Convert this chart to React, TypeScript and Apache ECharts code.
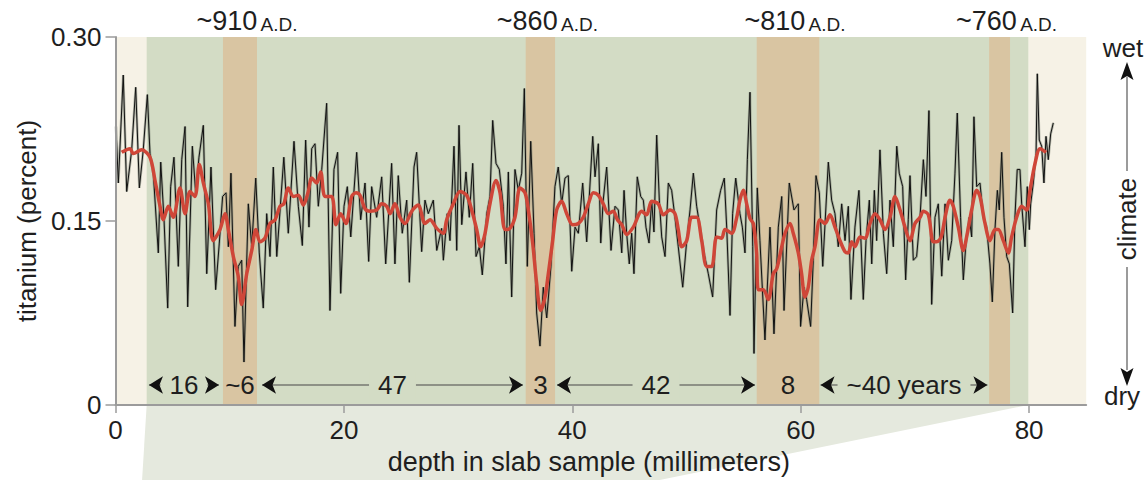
import React, { useEffect, useRef } from 'react';
import * as echarts from 'echarts';

// ---- data ----
const depthRaw = [
  0.04, 0.25, 0.68, 0.98, 1.42, 1.77, 2.09, 2.43, 2.79, 3.02, 3.31, 3.75, 3.96, 4.25, 4.57, 4.83, 5.12, 5.5, 5.8, 6.09,
  6.32, 6.73, 7.02, 7.31, 7.69, 7.99, 8.36, 8.77, 9.09, 9.38, 9.68, 9.88, 10.11, 10.46, 10.75, 11.05, 11.25, 11.63, 11.93, 12.28,
  12.59, 12.94, 13.24, 13.53, 13.82, 14.12, 14.74, 15.13, 15.63, 16.01, 16.36, 16.65, 16.94, 17.18, 17.47, 17.76, 18.06, 18.49, 18.78, 19.13,
  19.45, 19.72, 20.01, 20.3, 20.6, 21.12, 21.47, 21.85, 22.17, 22.43, 22.87, 23.31, 23.66, 24.18, 24.47, 24.76, 25.11, 25.5, 25.73, 26.14,
  26.37, 26.81, 27.1, 27.39, 27.83, 28.13, 28.56, 28.71, 29.05, 29.29, 29.64, 29.88, 30.08, 30.32, 30.69, 30.98, 31.28, 31.57, 31.86, 32.12,
  32.51, 32.79, 33.03, 33.32, 33.61, 33.96, 34.19, 34.4, 34.69, 34.98, 35.27, 35.57, 35.8, 36.06, 36.36, 36.65, 36.88, 37.17, 37.46, 37.76,
  38.13, 38.48, 38.77, 39.07, 39.36, 39.65, 39.95, 40.24, 40.53, 40.91, 41.26, 41.79, 41.99, 42.28, 42.49, 42.71, 43.01, 43.39, 43.74, 44.03,
  44.33, 44.53, 44.76, 44.99, 45.2, 45.4, 45.69, 45.99, 46.22, 46.45, 46.72, 46.95, 47.15, 47.39, 47.62, 47.83, 48.12, 48.41, 48.7, 48.99,
  49.28, 49.67, 50.02, 50.31, 50.6, 50.89, 51.18, 51.53, 51.91, 52.29, 52.64, 52.99, 53.31, 53.52, 53.81, 54.04, 54.31, 54.68, 54.89, 55.12,
  55.33, 55.56, 55.8, 55.91, 56.2, 56.43, 56.87, 57.31, 57.66, 58.04, 58.34, 58.54, 59.0, 59.41, 59.79, 59.99, 60.29, 60.52, 60.87, 61.1,
  61.34, 61.63, 61.93, 62.42, 62.71, 63.0, 63.29, 63.59, 63.88, 64.17, 64.4, 64.75, 65.1, 65.48, 65.72, 66.01, 66.22, 66.45, 66.65, 66.94,
  67.24, 67.53, 67.82, 68.11, 68.41, 68.63, 68.93, 69.19, 69.42, 69.57, 69.86, 70.15, 70.45, 70.74, 70.97, 71.23, 71.47, 71.76, 72.05, 72.35,
  72.64, 72.93, 73.22, 73.51, 73.71, 74.0, 74.24, 74.47, 74.76, 74.97, 75.17, 75.41, 75.7, 75.99, 76.28, 76.57, 76.78, 77.01, 77.22, 77.39,
  77.6, 77.8, 78.04, 78.27, 78.56, 78.76, 78.96, 79.2, 79.35, 79.64, 79.84, 80.02, 80.14, 80.37, 80.61, 80.72, 80.89, 81.1, 81.3, 81.48,
  81.68, 81.89, 82.12,
];
const titaniumRaw = [
  0.227, 0.181, 0.269, 0.174, 0.208, 0.259, 0.177, 0.208, 0.253, 0.205, 0.189, 0.124, 0.198, 0.151, 0.079, 0.178, 0.202, 0.113, 0.2, 0.227,
  0.08, 0.211, 0.173, 0.202, 0.228, 0.107, 0.194, 0.094, 0.132, 0.17, 0.173, 0.129, 0.189, 0.064, 0.113, 0.118, 0.035, 0.164, 0.129, 0.185,
  0.124, 0.079, 0.156, 0.121, 0.194, 0.121, 0.202, 0.14, 0.215, 0.162, 0.13, 0.216, 0.145, 0.209, 0.213, 0.162, 0.192, 0.246, 0.077, 0.192,
  0.206, 0.091, 0.162, 0.178, 0.137, 0.206, 0.151, 0.181, 0.117, 0.178, 0.153, 0.186, 0.115, 0.197, 0.115, 0.187, 0.14, 0.167, 0.1, 0.194,
  0.206, 0.125, 0.167, 0.156, 0.167, 0.126, 0.144, 0.118, 0.156, 0.134, 0.211, 0.126, 0.228, 0.147, 0.19, 0.153, 0.197, 0.121, 0.129, 0.106,
  0.156, 0.17, 0.232, 0.197, 0.192, 0.162, 0.115, 0.19, 0.088, 0.192, 0.175, 0.189, 0.258, 0.113, 0.215, 0.14, 0.075, 0.048, 0.096, 0.071,
  0.113, 0.178, 0.194, 0.164, 0.185, 0.187, 0.109, 0.145, 0.14, 0.181, 0.133, 0.219, 0.186, 0.213, 0.132, 0.167, 0.194, 0.126, 0.162, 0.159,
  0.124, 0.175, 0.14, 0.115, 0.14, 0.107, 0.186, 0.17, 0.167, 0.145, 0.132, 0.167, 0.141, 0.22, 0.167, 0.137, 0.121, 0.181, 0.175, 0.153,
  0.129, 0.096, 0.134, 0.159, 0.189, 0.162, 0.145, 0.124, 0.107, 0.088, 0.159, 0.175, 0.185, 0.145, 0.073, 0.156, 0.185, 0.156, 0.145, 0.124,
  0.2, 0.255, 0.129, 0.042, 0.177, 0.134, 0.053, 0.145, 0.058, 0.145, 0.17, 0.077, 0.181, 0.159, 0.164, 0.064, 0.096, 0.086, 0.064, 0.118,
  0.187, 0.173, 0.113, 0.198, 0.167, 0.156, 0.129, 0.164, 0.134, 0.162, 0.086, 0.145, 0.175, 0.086, 0.134, 0.167, 0.115, 0.175, 0.134, 0.208,
  0.14, 0.107, 0.167, 0.129, 0.211, 0.189, 0.178, 0.102, 0.151, 0.187, 0.118, 0.121, 0.153, 0.2, 0.17, 0.24, 0.082, 0.153, 0.164, 0.105,
  0.164, 0.118, 0.134, 0.189, 0.238, 0.153, 0.102, 0.132, 0.153, 0.137, 0.235, 0.178, 0.181, 0.153, 0.145, 0.115, 0.084, 0.143, 0.175, 0.159,
  0.206, 0.153, 0.121, 0.115, 0.075, 0.153, 0.192, 0.192, 0.164, 0.129, 0.178, 0.143, 0.164, 0.181, 0.205, 0.27, 0.216, 0.211, 0.181, 0.219,
  0.2, 0.221, 0.23,
];

const smoothDepth = [
  0.54, 1.27, 1.56, 2.29, 3.02, 3.46, 3.9, 4.19, 4.62, 5.06, 5.65, 6.09, 6.52, 6.96, 7.34, 7.69, 8.13, 8.56, 9.15, 9.59,
  9.88, 10.32, 10.75, 11.05, 11.49, 11.93, 12.3, 12.65, 13.09, 13.53, 13.97, 14.4, 14.74, 15.13, 15.57, 16.01, 16.45, 16.88, 17.18, 17.62,
  17.97, 18.34, 18.93, 19.31, 19.72, 20.18, 20.68, 21.06, 21.41, 21.85, 22.29, 22.87, 23.31, 23.75, 24.04, 24.47, 24.91, 25.35, 25.94, 26.51,
  27.1, 27.54, 28.13, 28.71, 29.0, 29.58, 30.17, 30.75, 31.19, 31.63, 31.98, 32.36, 32.79, 33.32, 33.67, 34.11, 34.54, 34.98, 35.42, 35.86,
  36.15, 36.53, 36.88, 37.23, 37.61, 37.9, 38.28, 38.63, 39.07, 39.51, 40.03, 40.53, 40.96, 41.4, 41.84, 42.28, 42.71, 43.15, 43.59, 43.95,
  44.33, 44.76, 45.34, 46.08, 46.51, 46.95, 47.53, 47.97, 48.56, 48.99, 49.28, 49.58, 50.02, 50.45, 50.89, 51.33, 51.77, 52.21, 52.64, 53.08,
  53.37, 53.96, 54.4, 54.68, 54.97, 55.27, 55.56, 55.85, 56.14, 56.29, 56.73, 57.16, 57.6, 57.9, 58.34, 58.63, 59.06, 59.35, 59.79, 60.08,
  60.37, 60.66, 60.96, 61.25, 61.69, 62.13, 62.56, 63.0, 63.44, 63.88, 64.17, 64.46, 64.75, 65.19, 65.63, 66.07, 66.51, 66.94, 67.38, 67.82,
  68.26, 68.7, 69.13, 69.57, 70.01, 70.45, 70.74, 71.18, 71.61, 71.9, 72.3, 72.64, 73.07, 73.36, 73.8, 74.24, 74.53, 74.97, 75.41, 75.7,
  76.14, 76.57, 77.01, 77.3, 77.74, 78.18, 78.47, 78.91, 79.35, 79.79, 80.08, 80.52, 80.96, 81.48,
];
const smoothTitanium = [
  0.206, 0.209, 0.205, 0.208, 0.202, 0.183, 0.162, 0.151, 0.162, 0.153, 0.177, 0.156, 0.174, 0.17, 0.196, 0.181, 0.164, 0.134, 0.143, 0.156,
  0.143, 0.121, 0.105, 0.082, 0.107, 0.126, 0.143, 0.133, 0.136, 0.148, 0.151, 0.162, 0.164, 0.177, 0.17, 0.171, 0.163, 0.174, 0.185, 0.181,
  0.19, 0.17, 0.17, 0.147, 0.156, 0.148, 0.17, 0.173, 0.171, 0.16, 0.158, 0.159, 0.164, 0.162, 0.156, 0.164, 0.153, 0.148, 0.158, 0.163,
  0.148, 0.151, 0.144, 0.14, 0.151, 0.164, 0.174, 0.171, 0.159, 0.143, 0.129, 0.14, 0.164, 0.183, 0.173, 0.143, 0.144, 0.153, 0.177, 0.173,
  0.159, 0.132, 0.099, 0.077, 0.088, 0.107, 0.134, 0.159, 0.166, 0.156, 0.147, 0.148, 0.153, 0.164, 0.173, 0.171, 0.164, 0.156, 0.158, 0.151,
  0.147, 0.139, 0.145, 0.158, 0.155, 0.166, 0.164, 0.155, 0.159, 0.156, 0.143, 0.129, 0.134, 0.153, 0.153, 0.134, 0.113, 0.113, 0.137, 0.136,
  0.143, 0.14, 0.153, 0.167, 0.175, 0.164, 0.152, 0.148, 0.124, 0.094, 0.094, 0.086, 0.107, 0.111, 0.129, 0.14, 0.148, 0.14, 0.124, 0.107,
  0.088, 0.096, 0.118, 0.129, 0.151, 0.148, 0.155, 0.145, 0.134, 0.125, 0.124, 0.133, 0.129, 0.137, 0.136, 0.148, 0.156, 0.151, 0.143, 0.153,
  0.17, 0.159, 0.145, 0.134, 0.148, 0.153, 0.158, 0.155, 0.133, 0.133, 0.137, 0.153, 0.167, 0.162, 0.145, 0.126, 0.137, 0.159, 0.175, 0.17,
  0.148, 0.134, 0.143, 0.143, 0.134, 0.124, 0.137, 0.153, 0.162, 0.159, 0.175, 0.197, 0.209, 0.206,
];

const xTicks = [0, 20, 40, 60, 80];
const yTicks = [0, 0.15, 0.3];
const slabExtent = [0, 85];
const sampleExtent = [2.73, 79.93];
const dryBandStarts = [9.41, 35.92, 56.15, 76.5];
const dryBandEnds = [12.39, 38.49, 61.63, 78.33];
const dateLabels = ['~910', '~860', '~810', '~760'];
const bandYearLabels = ['~6', '3', '8', ''];
const intervalStarts = [2.93, 12.83, 38.66, 61.74];
const intervalEnds = [9.06, 35.68, 56.0, 76.35];
const intervalLabels = ['16', '47', '42', '~40 years'];
const intervalLevel = 0.0163;
const slabFootLeft = 2.3;
const slabFootRight = 45.5;

const FONT = '"Liberation Sans", Arial, Helvetica, sans-serif';
const CREAM = '#f6f2e6';
const GREEN = '#d3dcc5';
const TAN = '#d9c5a2';
const INK = '#1e1e1e';
const AXIS = '#9b9b9b';

export default function App() {
  const ref = useRef<HTMLDivElement>(null);

  useEffect(() => {
    if (!ref.current) return;
    const chart = echarts.init(ref.current, undefined, { renderer: 'svg' });

    const raw = depthRaw.map((d, i) => [d, titaniumRaw[i]]);
    const smooth = smoothDepth.map((d, i) => [d, smoothTitanium[i]]);

    const bgAreas: any[] = [
      [
        { xAxis: slabExtent[0], yAxis: 0, itemStyle: { color: CREAM }, label: { show: false } },
        { xAxis: slabExtent[1], yAxis: 0.3 },
      ],
      [
        { xAxis: sampleExtent[0], yAxis: 0, itemStyle: { color: GREEN }, label: { show: false } },
        { xAxis: sampleExtent[1], yAxis: 0.3 },
      ],
    ];
    dryBandStarts.forEach((s, i) => {
      bgAreas.push([
        { xAxis: s, yAxis: 0, name: dateLabels[i], itemStyle: { color: TAN } },
        { xAxis: dryBandEnds[i], yAxis: 0.3 },
      ]);
    });

    const yearAreas = dryBandStarts.map((s, i) => [
      { xAxis: s, yAxis: 0, name: bandYearLabels[i] },
      { xAxis: dryBandEnds[i], yAxis: 0.3 },
    ]);

    const intervalLines = intervalStarts.map((s, i) => [
      { coord: [s, intervalLevel], name: intervalLabels[i] },
      { coord: [intervalEnds[i], intervalLevel] },
    ]);

    const option: any = {
      animation: false,
      grid: { left: 115.5, right: 61.8, top: 37, bottom: 75, containLabel: false },
      xAxis: {
        type: 'value',
        min: slabExtent[0],
        max: slabExtent[1],
        z: 8,
        axisLine: { show: true, lineStyle: { color: AXIS, width: 2 } },
        axisTick: { show: true, length: 8, customValues: xTicks, lineStyle: { color: AXIS, width: 1.5 } },
        axisLabel: { customValues: xTicks, margin: 12, fontSize: 26, color: INK, fontFamily: FONT },
        splitLine: { show: false },
        name: 'depth in slab sample (millimeters)',
        nameLocation: 'middle',
        nameGap: 43,
        nameTextStyle: { fontSize: 27, color: INK, fontFamily: FONT, padding: [0, 24, 0, 0] },
      },
      yAxis: {
        type: 'value',
        min: 0,
        max: 0.3,
        interval: 0.15,
        z: 8,
        axisLine: { show: true, lineStyle: { color: AXIS, width: 2 } },
        axisTick: { show: true, length: 10, lineStyle: { color: AXIS, width: 1.5 } },
        axisLabel: {
          margin: 14,
          fontSize: 26,
          color: INK,
          fontFamily: FONT,
          formatter: (v: number) => (v === 0 ? '0' : v.toFixed(2)),
        },
        splitLine: { show: false },
        name: 'titanium (percent)',
        nameLocation: 'middle',
        nameGap: 73,
        nameRotate: 90,
        nameTextStyle: { fontSize: 26, color: INK, fontFamily: FONT },
      },
      series: [
        {
          type: 'line',
          name: 'backgrounds',
          data: [],
          z: 1,
          silent: true,
          markArea: {
            silent: true,
            z: 1,
            label: {
              show: true,
              position: 'top',
              distance: 3,
              offset: [7, 0],
              formatter: (p: any) => `{n|${p.name}} {s|A.D.}`,
              rich: {
                n: { fontSize: 27, color: INK, fontFamily: FONT, verticalAlign: 'bottom', lineHeight: 27 },
                s: { fontSize: 19, color: INK, fontFamily: FONT, verticalAlign: 'bottom', lineHeight: 22 },
              },
            },
            data: bgAreas,
          },
        },
        {
          type: 'line',
          name: 'bandYears',
          data: [],
          z: 2,
          silent: true,
          markArea: {
            silent: true,
            z: 2,
            itemStyle: { color: 'rgba(0,0,0,0)' },
            label: {
              show: true,
              position: 'insideBottom',
              distance: 7,
              formatter: '{b}',
              fontSize: 26,
              color: INK,
              fontFamily: FONT,
            },
            data: yearAreas,
          },
        },
        {
          type: 'custom',
          name: 'slab',
          z: 0,
          silent: true,
          clip: false,
          data: [[sampleExtent[0], 0]],
          renderItem: (_p: any, api: any) => {
            const a = api.coord([sampleExtent[0], 0]);
            const b = api.coord([sampleExtent[1], 0]);
            const c = api.coord([slabFootRight, 0]);
            const d = api.coord([slabFootLeft, 0]);
            return {
              type: 'polygon',
              shape: { points: [a, b, [c[0], c[1] + 80], [d[0], d[1] + 80]] },
              style: { fill: '#e5e9de' },
            };
          },
        },
        {
          type: 'line',
          name: 'halo',
          data: raw,
          z: 3,
          silent: true,
          showSymbol: false,
          symbol: 'none',
          lineStyle: { color: '#7c8474', width: 2.6, opacity: 0.55 },
        },
        {
          type: 'line',
          name: 'titanium',
          data: raw,
          z: 4,
          silent: true,
          showSymbol: false,
          symbol: 'none',
          lineStyle: { color: '#111', width: 1 },
        },
        {
          type: 'line',
          name: 'smoothed',
          data: smooth,
          z: 5,
          silent: true,
          showSymbol: false,
          symbol: 'none',
          smooth: 0.3,
          lineStyle: { color: '#cf4638', width: 3.5 },
        },
        {
          type: 'line',
          name: 'intervals',
          data: [],
          z: 6,
          silent: true,
          markLine: {
            silent: true,
            z: 6,
            symbol: ['none', 'none'],
            lineStyle: { color: '#8d9186', width: 2, type: 'solid' },
            label: {
              show: true,
              position: 'middle',
              distance: 0,
              verticalAlign: 'middle',
              formatter: '{b}',
              fontSize: 26,
              color: INK,
              fontFamily: FONT,
              backgroundColor: GREEN,
              padding: [0, 9],
            },
            data: intervalLines,
          },
        },
        {
          type: 'line',
          name: 'arrows',
          data: [],
          z: 7,
          silent: true,
          markLine: {
            silent: true,
            z: 7,
            symbol: ['arrow', 'arrow'],
            symbolSize: [13, 14],
            lineStyle: { color: '#111', width: 0, type: 'solid' },
            label: { show: false },
            data: intervalLines,
          },
        },
      ],
      graphic: [
        {
          type: 'text',
          x: 1123,
          y: 48,
          style: { text: 'wet', fontSize: 26, fontFamily: FONT, fill: INK, align: 'center', verticalAlign: 'middle' },
        },
        {
          type: 'polygon',
          shape: { points: [[1127, 62], [1120.5, 80], [1127, 76], [1133.5, 80]] },
          style: { fill: '#111' },
        },
        { type: 'line', shape: { x1: 1127, y1: 76, x2: 1127, y2: 171 }, style: { stroke: AXIS, lineWidth: 2 } },
        {
          type: 'text',
          x: 1127,
          y: 219,
          rotation: Math.PI / 2,
          style: { text: 'climate', fontSize: 26, fontFamily: FONT, fill: INK, align: 'center', verticalAlign: 'middle' },
        },
        { type: 'line', shape: { x1: 1127, y1: 267, x2: 1127, y2: 370 }, style: { stroke: AXIS, lineWidth: 2 } },
        {
          type: 'polygon',
          shape: { points: [[1127, 386], [1120.5, 368], [1127, 372], [1133.5, 368]] },
          style: { fill: '#111' },
        },
        {
          type: 'text',
          x: 1122,
          y: 396,
          style: { text: 'dry', fontSize: 26, fontFamily: FONT, fill: INK, align: 'center', verticalAlign: 'middle' },
        },
      ],
    };

    chart.setOption(option);
    return () => chart.dispose();
  }, []);

  return (
    <div
      ref={ref}
      style={{ position: 'fixed', left: 0, top: 0, width: 1148, height: 480, background: '#ffffff' }}
    />
  );
}
